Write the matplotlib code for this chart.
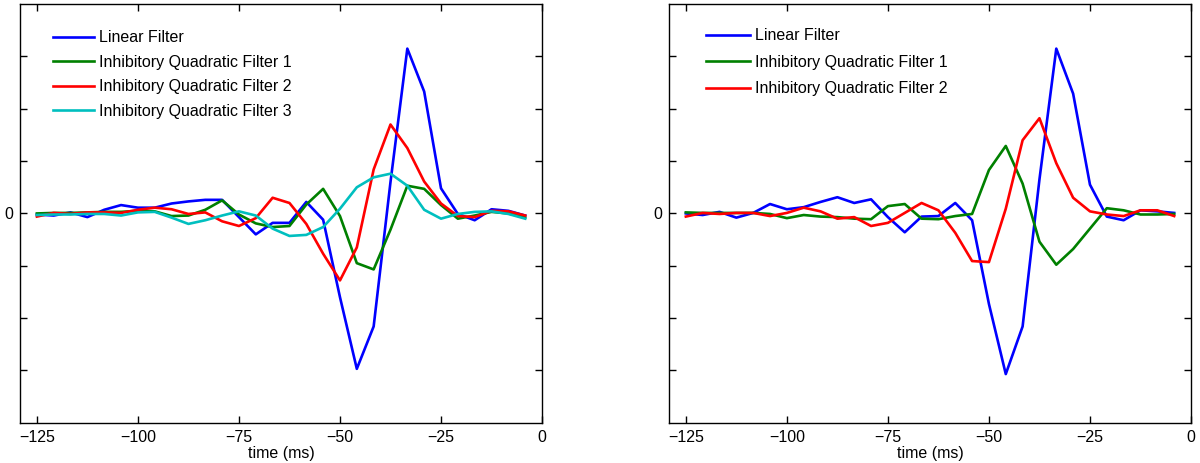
import numpy as np
import matplotlib
matplotlib.use("Agg")
import matplotlib.pyplot as plt

plt.rcParams['font.family'] = ['Liberation Sans', 'DejaVu Sans']
plt.rcParams['font.size'] = 11.5

# sampling grid: 30 bins of 125/30 ms before the spike
dt = 125.0 / 30
t = -125 + dt * np.arange(30)

# left panel filters (arbitrary units)
linearA = [-0.02, -0.04, 0.02, -0.07, 0.07, 0.16, 0.11, 0.11, 0.19, 0.23,
           0.26, 0.26, -0.07, -0.40, -0.18, -0.18, 0.22, -0.12, -1.60, -2.97,
           -2.16, 0.60, 3.15, 2.33, 0.48, -0.01, -0.13, 0.08, 0.05, -0.04]
quad1A = [0.00, 0.01, 0.01, 0.02, 0.03, 0.03, 0.05, 0.04, -0.05, -0.04,
          0.07, 0.25, -0.02, -0.19, -0.26, -0.24, 0.17, 0.47, -0.05, -0.95,
          -1.07, -0.31, 0.53, 0.47, 0.16, -0.10, -0.04, 0.03, 0.00, -0.08]
quad2A = [-0.06, 0.01, -0.01, 0.02, 0.02, 0.01, 0.07, 0.11, 0.08, -0.01,
          0.02, -0.15, -0.24, -0.09, 0.30, 0.20, -0.20, -0.77, -1.28, -0.65,
          0.84, 1.70, 1.25, 0.61, 0.19, -0.05, -0.07, 0.05, 0.04, -0.04]
quad3A = [-0.03, -0.02, -0.02, -0.01, -0.01, -0.04, 0.02, 0.03, -0.08, -0.20,
          -0.13, -0.04, 0.04, -0.04, -0.29, -0.43, -0.41, -0.26, 0.09, 0.50,
          0.69, 0.76, 0.53, 0.07, -0.10, -0.01, 0.03, 0.04, -0.01, -0.10]

# right panel filters
linearB = [0.00, -0.03, 0.03, -0.08, 0.01, 0.18, 0.08, 0.12, 0.22, 0.31,
           0.20, 0.27, -0.07, -0.36, -0.06, -0.05, 0.20, -0.13, -1.73, -3.07,
           -2.16, 0.65, 3.15, 2.29, 0.55, -0.06, -0.13, 0.06, 0.04, 0.01]
quad1B = [0.02, 0.01, 0.01, 0.01, 0.01, -0.01, -0.09, -0.03, -0.06, -0.07,
          -0.10, -0.11, 0.14, 0.18, -0.10, -0.11, -0.05, -0.01, 0.83, 1.29,
          0.57, -0.54, -0.98, -0.68, -0.29, 0.10, 0.06, -0.02, -0.02, -0.01]
quad2B = [-0.06, 0.01, -0.01, 0.01, 0.01, -0.05, 0.01, 0.11, 0.04, -0.10,
          -0.07, -0.24, -0.18, 0.01, 0.20, 0.06, -0.37, -0.91, -0.93, 0.09,
          1.40, 1.82, 0.96, 0.30, 0.04, -0.02, -0.05, 0.06, 0.06, -0.05]

labels = ['Linear Filter', 'Inhibitory Quadratic Filter 1',
          'Inhibitory Quadratic Filter 2', 'Inhibitory Quadratic Filter 3']
colors = ['#0000ff', '#008000', '#ff0000', '#00bfbf']
xticks = [-125, -100, -75, -50, -25, 0]
yticks = [-3, -2, -1, 0, 1, 2, 3]
yticklabels = ['', '', '', '0', '', '', '']


def setupAxes(ax):
    ax.set_xlim(-125 - dt, 0)
    ax.set_ylim(-4, 4)
    ax.set_xticks(xticks)
    ax.set_xticklabels([str(x).replace('-', '\u2212') for x in xticks])
    ax.set_yticks(yticks)
    ax.set_yticklabels(yticklabels)
    ax.tick_params(direction='in', length=5, width=1, top=True, right=True,
                   labelsize=11.5, pad=5)
    for s in ax.spines.values():
        s.set_linewidth(1.0)
    ax.set_xlabel('time (ms)', fontsize=11.5, labelpad=1)


fig = plt.figure(figsize=(12, 4.63), dpi=100)
ax1 = fig.add_axes([0.0167, 0.087, 0.435, 0.904])
ax2 = fig.add_axes([0.5575, 0.087, 0.435, 0.904])

for y, c, lab in zip([linearA, quad1A, quad2A, quad3A], colors, labels):
    ax1.plot(t, y, color=c, lw=1.9, label=lab)
for y, c, lab in zip([linearB, quad1B, quad2B], colors, labels):
    ax2.plot(t, y, color=c, lw=1.9, label=lab)

setupAxes(ax1)
setupAxes(ax2)

ax1.legend(loc='upper left', bbox_to_anchor=(0.063, 0.938), frameon=False,
           borderpad=0, borderaxespad=0, handlelength=2.55, handletextpad=0.36,
           labelspacing=0.6, fontsize=11.5)
ax2.legend(loc='upper left', bbox_to_anchor=(0.071, 0.942), frameon=False,
           borderpad=0, borderaxespad=0, handlelength=2.75, handletextpad=0.33,
           labelspacing=0.72, fontsize=11.5)

fig.savefig('out.png', dpi=100)
